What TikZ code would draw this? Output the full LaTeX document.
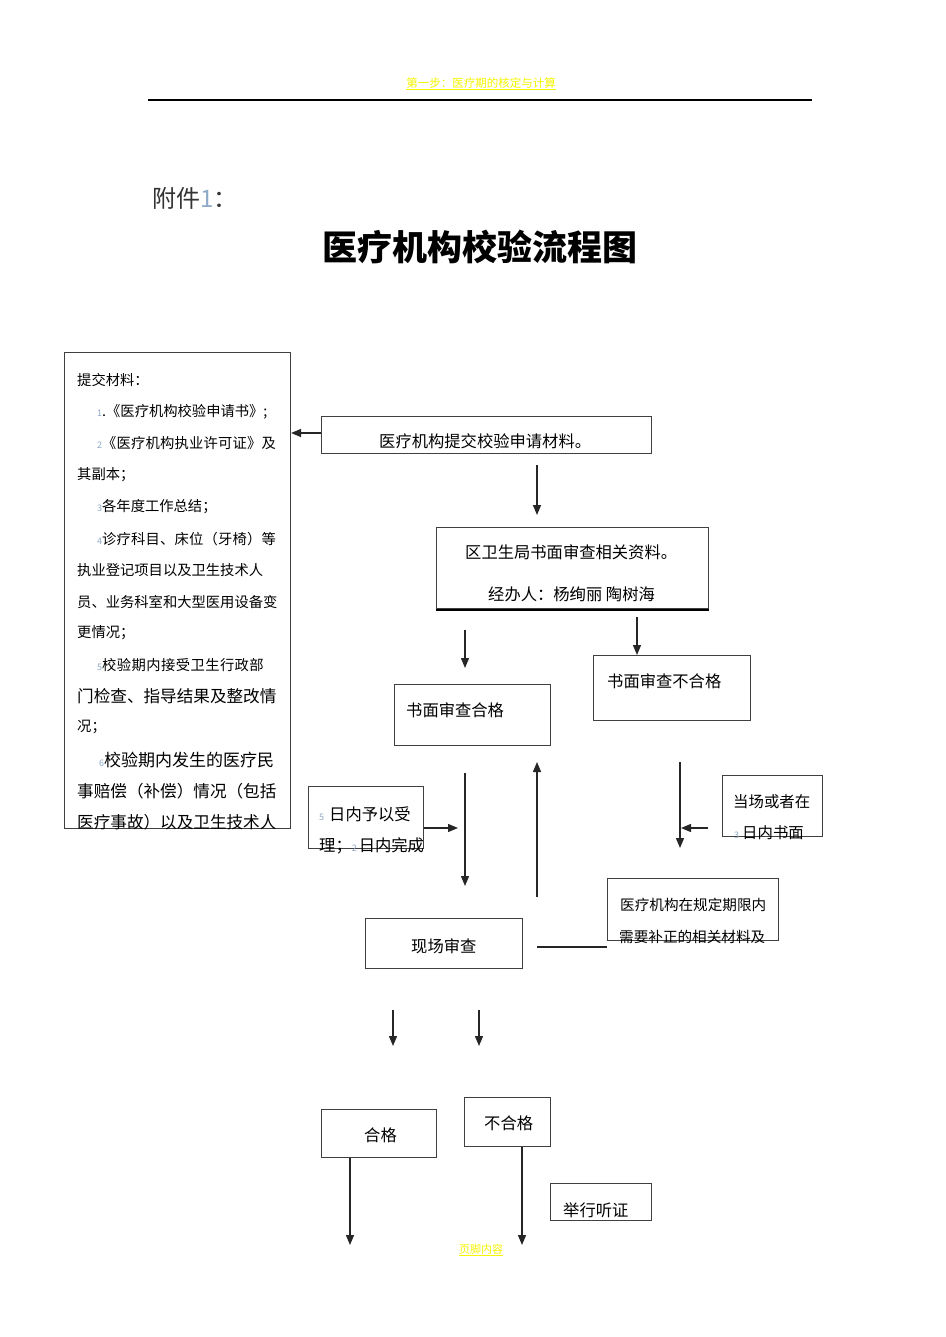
\documentclass[tikz,border=0pt]{standalone}
\usepackage{fontspec}
\setmainfont{Noto Sans CJK SC}
\usetikzlibrary{arrows.meta}
\definecolor{fdc}{HTML}{8FA9C8}
\definecolor{hdry}{HTML}{F5F500}
\newcommand\fd[1]{{\color{fdc}\fontsize{9}{9}\selectfont #1}}
\def\spreadit#1{\ifx#1\relax\unskip\else#1\hfil\expandafter\spreadit\fi}
\newcommand\jline[2]{\makebox[#1][l]{\spreadit#2\relax}}
\begin{document}
\begin{tikzpicture}[x=1pt,y=-1pt,
  box/.style={draw=black!75, line width=1.1pt, inner sep=0pt, anchor=north west},
  txt/.style={inner sep=0pt, anchor=west, font=\fontsize{16.3}{18}\selectfont},
  ltxt/.style={inner sep=0pt, anchor=west, font=\fontsize{14.3}{18}\selectfont},
  btxt/.style={inner sep=0pt, anchor=west, font=\fontsize{16.6}{18}\selectfont},
  arr/.style={draw=black!85, line width=1.3pt, -{Triangle[length=10pt,width=8pt]}},
  plain/.style={draw=black!85, line width=2pt}
]
\useasboundingbox (0,0) rectangle (945,1337);
\fill[white] (0,0) rectangle (945,1337);

% header
\node[inner sep=0pt, text=hdry, font=\fontsize{11.5}{13}\selectfont] (hdr) at (481,83) {第一步：医疗期的核定与计算};
\draw[hdry, line width=0.8pt] ([yshift=-1pt]hdr.south west) -- ([yshift=-1pt]hdr.south east);
\coordinate (hl1) at (148,100);
\coordinate (hl2) at (812,100);
\draw[black, line width=1.2pt] (hl1) -- (hl2);

% attachment label and title
\node[inner sep=0pt, anchor=west, font=\fontsize{24}{26}\selectfont, text=black!80] (att) at (152,198) {附件{\color{fdc}1}：};
\node[inner sep=0pt, font=\fontsize{35}{38}\selectfont\bfseries] (title) at (480,247) {医疗机构校验流程图};

% boxes
\node[box, minimum width=226pt, minimum height=476pt] (L) at (64,352) {};
\node[box, minimum width=330pt, minimum height=37pt] (b1) at (321,416) {};
\node[box, minimum width=272pt, minimum height=81pt] (b2) at (436,527) {};
\node[box, minimum width=156pt, minimum height=61pt] (b3) at (394,684) {};
\node[box, minimum width=157pt, minimum height=65pt] (b4) at (593,655) {};
\node[box, minimum width=115pt, minimum height=62pt] (b5) at (308,786) {};
\node[box, minimum width=100pt, minimum height=61pt] (b6) at (722,775) {};
\node[box, minimum width=171pt, minimum height=62pt] (b7) at (607,878) {};
\node[box, minimum width=157pt, minimum height=50pt] (b8) at (365,918) {};
\node[box, minimum width=115pt, minimum height=48pt] (b9) at (321,1109) {};
\node[box, minimum width=86pt, minimum height=49pt] (b10) at (464,1097) {};
\node[box, minimum width=101pt, minimum height=37pt] (b11) at (550,1183) {};
\draw[black, line width=2pt] ([yshift=-0.5pt]b2.south west) -- ([yshift=-0.5pt]b2.south east);

% left box text
\node[ltxt] (l1) at (77,380) {提交材料：};
\node[ltxt] (l2) at (97,412) {\fd{1}.《医疗机构校验申请书》;};
\node[ltxt] (l3) at (97,443) {\fd{2}\jline{174pt}{《医疗机构执业许可证》及}};
\node[ltxt] (l4) at (77,475) {其副本；};
\node[ltxt] (l5) at (97,507) {\fd{3}各年度工作总结；};
\node[ltxt] (l6) at (97,539) {\fd{4}\jline{174pt}{诊疗科目、床位（牙椅）等}};
\node[ltxt] (l7) at (77,570) {\jline{183pt}{执业登记项目以及卫生技术人}};
\node[ltxt] (l8) at (77,602) {\jline{199pt}{员、业务科室和大型医用设备变}};
\node[ltxt] (l9) at (77,633) {更情况；};
\node[ltxt] (l10) at (97,665) {\fd{5}\jline{162pt}{校验期内接受卫生行政部}};
\node[btxt] (l11) at (77,696) {门检查、指导结果及整改情};
\node[ltxt] (l12) at (77,727) {况；};
\node[btxt, font=\fontsize{17}{18}\selectfont] (l13) at (99,760) {\fd{6}校验期内发生的医疗民};
\node[btxt] (l14) at (77,791) {事赔偿（补偿）情况（包括};
\node[btxt] (l15) at (77,822) {医疗事故）以及卫生技术人};

% box texts
\node[txt] (t1) at (379,441) {医疗机构提交校验申请材料。};
\node[txt] (t2a) at (465,552) {区卫生局书面审查相关资料。};
\node[txt] (t2b) at (488,594) {经办人：杨绚丽 陶树海};
\node[txt] (t3) at (406,710) {书面审查合格};
\node[txt] (t4) at (607,681) {书面审查不合格};
\node[txt] (t5a) at (319,814) {\fd{5}\hspace{5pt}日内予以受};
\node[txt] (t5b) at (319,846) {理；\fd{2}\hspace{2pt}日内完成};
\node[txt, font=\fontsize{15.4}{18}\selectfont] (t6a) at (733,802) {当场或者在};
\node[txt, font=\fontsize{15.4}{18}\selectfont] (t6b) at (734,833) {\fd{3}\hspace{3pt}日内书面};
\node[txt, font=\fontsize{14.6}{18}\selectfont] (t7a) at (620,905) {医疗机构在规定期限内};
\node[txt, font=\fontsize{14.6}{18}\selectfont] (t7b) at (619,937) {需要补正的相关材料及};
\node[txt] (t8) at (411,946) {现场审查};
\node[txt] (t9) at (364,1135) {合格};
\node[txt] (t10) at (484,1123) {不合格};
\node[txt] (t11) at (563,1210) {举行听证};

% footer
\node[inner sep=0pt, text=hdry, font=\fontsize{11}{13}\selectfont] (ftr) at (481,1249) {页脚内容};
\draw[hdry, line width=0.8pt] ([yshift=-1pt]ftr.south west) -- ([yshift=-1pt]ftr.south east);

% connectors
\draw[arr] (b1.west |- 0,433) -- (L.east |- 0,433);
\coordinate (a1s) at (537,465); \coordinate (a1e) at (537,515);
\draw[arr] (a1s) -- (a1e);
\coordinate (a2s) at (465,630); \coordinate (a2e) at (465,668);
\draw[arr] (a2s) -- (a2e);
\coordinate (a3s) at (637,617);
\draw[arr] (a3s) -- (b4.north -| a3s);
\coordinate (a4s) at (465,773); \coordinate (a4e) at (465,886);
\draw[arr] (a4s) -- (a4e);
\coordinate (a5s) at (537,897); \coordinate (a5e) at (537,762);
\draw[arr] (a5s) -- (a5e);
\coordinate (a6e) at (458,828);
\draw[arr] (b5.east |- a6e) -- (a6e);
\coordinate (a7s) at (680,762); \coordinate (a7e) at (680,848);
\draw[arr] (a7s) -- (a7e);
\coordinate (a8s) at (708,828); \coordinate (a8e) at (681,828);
\draw[arr] (a8s) -- (a8e);
\coordinate (ln1) at (537,947);
\draw[plain] (ln1) -- (b7.west |- ln1);
\coordinate (a9s) at (393,1010); \coordinate (a9e) at (393,1046);
\draw[arr] (a9s) -- (a9e);
\coordinate (a10s) at (479,1010); \coordinate (a10e) at (479,1046);
\draw[arr] (a10s) -- (a10e);
\coordinate (a11) at (350,1245);
\draw[arr] (b9.south -| a11) -- (a11);
\coordinate (a12) at (522,1245);
\draw[arr] (b10.south -| a12) -- (a12);
\end{tikzpicture}
\end{document}
